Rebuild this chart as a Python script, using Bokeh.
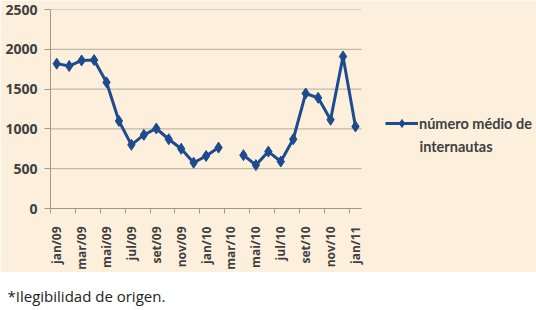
import math
from bokeh.plotting import figure
from bokeh.models import FixedTicker, Legend, LegendItem, Label, ColumnDataSource
from bokeh.layouts import column
from bokeh.embed import file_html
from bokeh.resources import INLINE

months = ["jan/09", "fev/09", "mar/09", "abr/09", "mai/09", "jun/09", "jul/09", "ago/09",
          "set/09", "out/09", "nov/09", "dez/09", "jan/10", "fev/10", "mar/10", "abr/10",
          "mai/10", "jun/10", "jul/10", "ago/10", "set/10", "out/10", "nov/10", "dez/10",
          "jan/11"]
internautas = [1820, 1790, 1860, 1865, 1585, 1100, 800, 925, 1005, 870, 750, 575, 660,
               765, None, 670, 545, 715, 590, 870, 1445, 1390, 1115, 1910, 1030]
tick_labels = months[::2]
y_ticks = [0, 500, 1000, 1500, 2000, 2500]
series_name_lines = ["número médio de", "internautas"]
footnote = "*Ilegibilidad de origen."

BG = "#fcf0dd"
BLUE = "#1e4a8e"
GRID = "#b5aa97"
AXIS = "#a0988a"
TXT = "#404040"
LEG_FONT = "Lato"

n = len(months)
xs = list(range(n))
ys = [float("nan") if v is None else v for v in internautas]
src = ColumnDataSource(dict(x=xs, y=ys))

# plot frame spans to the right edge so the legend can sit beside the data
unit_px = 12.448
frame_w = 536 - 50
x_end = -0.5 + frame_w / unit_px

p = figure(width=536, height=272, x_range=(-0.5, x_end), y_range=(0, 2500),
           output_backend="svg", toolbar_location=None,
           min_border_left=50, min_border_right=0, min_border_top=9, min_border_bottom=62)
p.background_fill_color = BG
p.border_fill_color = BG
p.outline_line_color = None

p.xgrid.grid_line_color = None
p.ygrid.grid_line_color = None
p.segment(x0=[-0.5] * len(y_ticks), x1=[n - 0.5] * len(y_ticks), y0=y_ticks, y1=y_ticks,
          line_color=GRID, line_width=1)

ln = p.line("x", "y", source=src, line_color=BLUE, line_width=3)
sc = p.scatter("x", "y", source=src, marker="diamond", size=11, fill_color=BLUE, line_color=BLUE)

xa = p.xaxis[0]
xa.bounds = (-0.5, n - 0.5)
xa.ticker = FixedTicker(ticks=list(range(0, n, 2)),
                        minor_ticks=[i - 0.5 for i in range(0, n, 2)])
xa.major_label_overrides = {i * 2: t for i, t in enumerate(tick_labels)}
xa.major_label_orientation = math.pi / 2
xa.major_tick_out = 0
xa.major_tick_in = 0
xa.minor_tick_in = 0
xa.minor_tick_out = 5
xa.minor_tick_line_color = AXIS
xa.axis_line_color = AXIS
xa.major_label_standoff = 13
xa.major_label_text_font = "Open Sans"
xa.major_label_text_font_size = "12px"
xa.major_label_text_font_style = "bold"
xa.major_label_text_color = TXT

ya = p.yaxis[0]
ya.ticker = FixedTicker(ticks=y_ticks)
ya.major_tick_out = 6
ya.major_tick_in = 0
ya.minor_tick_out = 0
ya.minor_tick_in = 0
ya.major_tick_line_color = AXIS
ya.axis_line_color = AXIS
ya.major_label_standoff = 7
ya.major_label_text_font = "Open Sans"
ya.major_label_text_font_size = "14px"
ya.major_label_text_font_style = "bold"
ya.major_label_text_color = TXT

legend = Legend(items=[LegendItem(label=series_name_lines[0], renderers=[ln, sc])],
                location=(335, 75), padding=0, margin=0, glyph_width=33, glyph_height=20,
                label_standoff=1, border_line_color=None, background_fill_alpha=0,
                label_text_font=LEG_FONT, label_text_font_size="14.5px",
                label_text_font_style="bold", label_text_color=TXT)
p.add_layout(legend, "center")
p.add_layout(Label(x=369, y=62, x_units="screen", y_units="screen", text=series_name_lines[1],
                   text_font=LEG_FONT, text_font_size="14.5px", text_font_style="bold",
                   text_color=TXT, text_baseline="alphabetic"))

foot = figure(width=536, height=38, output_backend="svg", toolbar_location=None,
              x_range=(0, 1), y_range=(0, 1), min_border=0)
foot.frame_align = False
foot.axis.visible = False
foot.grid.visible = False
foot.outline_line_color = None
foot.background_fill_color = "white"
foot.border_fill_color = "white"
foot.add_layout(Label(x=7, y=15, x_units="screen", y_units="screen", text=footnote,
                      text_font="Open Sans", text_font_size="15px", text_color="#222222",
                      text_baseline="alphabetic"))

layout = column(p, foot, spacing=0)
open("out.html", "w").write(file_html(layout, INLINE))
